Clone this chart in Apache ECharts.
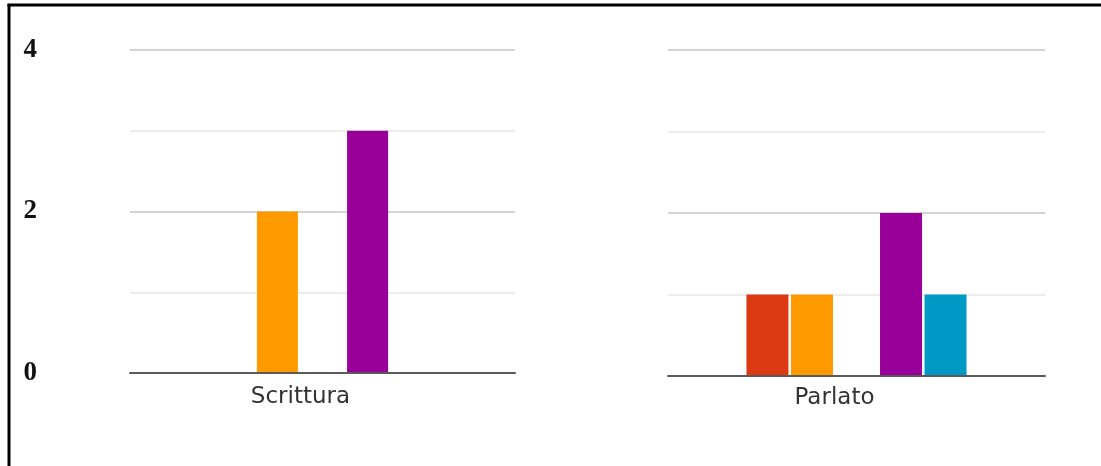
<!DOCTYPE html>
<html>
<head>
<meta charset="utf-8">
<script src="https://cdn.jsdelivr.net/npm/echarts@6/dist/echarts.min.js"></script>
<style>
  html, body { margin: 0; padding: 0; background: #fff; }
  #chart { width: 1101px; height: 466px; }
</style>
</head>
<body>
<div id="chart"></div>
<script>
// Categories, one per panel
var categories = ['Scrittura', 'Parlato'];

// Series values, one entry per category
var seriesNames = ['Gruppo 1', 'Gruppo 2', 'Gruppo 3', 'Gruppo 4', 'Gruppo 5'];
var serie1 = [0, 1];
var serie2 = [2, 1];
var serie3 = [0, 0];
var serie4 = [3, 2];
var serie5 = [0, 1];
var seriesColors = ['#DC3912', '#FF9900', '#109618', '#990099', '#0099C6'];

// Value axis ticks
var yMin = 0;
var yMax = 4;
var yStep = 1;
var yLabeled = [0, 2, 4];

var allSeries = [serie1, serie2, serie3, serie4, serie5];

var grids = [
  { left: 130, top: 50, width: 385, height: 323 },
  { left: 668, top: 50, width: 377, height: 326 }
];
var panelStyle = [
  { barWidth: 41, barGap: '10%', labelPad: 44, labelMargin: 13 },
  { barWidth: 42, barGap: '6%', labelPad: 44, labelMargin: 11 }
];

var xAxes = [], yAxes = [], series = [];
categories.forEach(function (cat, gi) {
  var ps = panelStyle[gi];
  xAxes.push({
    type: 'category',
    gridIndex: gi,
    data: [cat],
    z: 5,
    axisLine: { show: true, lineStyle: { color: '#5a5a5a', width: 2 } },
    axisTick: { show: false },
    axisLabel: {
      margin: ps.labelMargin,
      fontFamily: 'DejaVu Sans',
      fontSize: 23,
      color: '#333',
      padding: [0, ps.labelPad, 0, 0]
    },
    splitLine: { show: false }
  });
  yAxes.push({
    type: 'value',
    gridIndex: gi,
    min: yMin,
    max: yMax,
    interval: yStep,
    axisLine: { show: false },
    axisTick: { show: false },
    axisLabel: {
      show: gi === 0,
      margin: 93,
      fontFamily: 'Liberation Serif',
      fontWeight: 'bold',
      fontSize: 27,
      color: '#111',
      formatter: function (v) { return yLabeled.indexOf(v) >= 0 ? String(v) : ''; }
    },
    splitLine: { show: true, lineStyle: { color: ['#d4d4d4', '#ececec'], width: 2 } }
  });
  allSeries.forEach(function (vals, si) {
    series.push({
      type: 'bar',
      name: seriesNames[si],
      xAxisIndex: gi,
      yAxisIndex: gi,
      data: [vals[gi]],
      barWidth: ps.barWidth,
      barGap: ps.barGap,
      itemStyle: { color: seriesColors[si] },
      emphasis: { disabled: true }
    });
  });
});

var chart = echarts.init(document.getElementById('chart'), null, { renderer: 'canvas' });
chart.setOption({
  animation: false,
  backgroundColor: '#fff',
  grid: grids,
  xAxis: xAxes,
  yAxis: yAxes,
  series: series,
  graphic: [
    { type: 'line', shape: { x1: 9, y1: 4, x2: 9, y2: 466 }, style: { stroke: '#000', lineWidth: 3 } },
    { type: 'line', shape: { x1: 7.5, y1: 5, x2: 1101, y2: 5 }, style: { stroke: '#000', lineWidth: 3 } }
  ]
});
</script>
</body>
</html>
